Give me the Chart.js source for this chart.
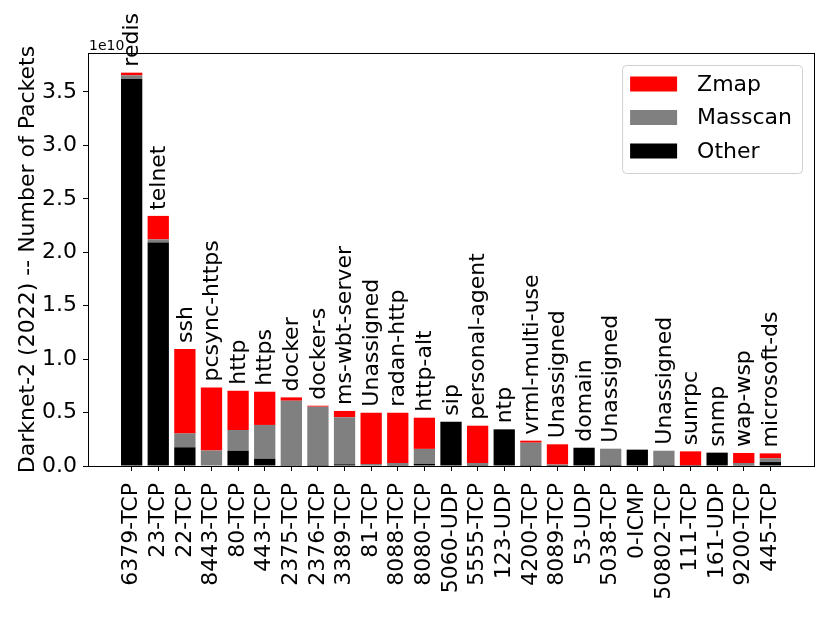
<!DOCTYPE html>
<html>
<head>
<meta charset="utf-8">
<script src="https://cdn.jsdelivr.net/npm/chart.js@4.4.1/dist/chart.umd.min.js"></script>
<style>
  html, body { margin: 0; padding: 0; background: #fff; }
  #wrap { width: 830px; height: 623px; }
</style>
</head>
<body>
<div id="wrap"><canvas id="chart" width="830" height="623"></canvas></div>
<script>
// port / protocol on the x axis
const ports = ['6379-TCP', '23-TCP', '22-TCP', '8443-TCP', '80-TCP', '443-TCP', '2375-TCP', '2376-TCP',
  '3389-TCP', '81-TCP', '8088-TCP', '8080-TCP', '5060-UDP', '5555-TCP', '123-UDP', '4200-TCP',
  '8089-TCP', '53-UDP', '5038-TCP', '0-ICMP', '50802-TCP', '111-TCP', '161-UDP', '9200-TCP', '445-TCP'];

// service name written above each bar
const services = ['redis', 'telnet', 'ssh', 'pcsync-https', 'http', 'https', 'docker', 'docker-s',
  'ms-wbt-server', 'Unassigned', 'radan-http', 'http-alt', 'sip', 'personal-agent', 'ntp', 'vrml-multi-use',
  'Unassigned', 'domain', 'Unassigned', '', 'Unassigned', 'sunrpc', 'snmp', 'wap-wsp', 'microsoft-ds'];

// packets (units of 1e10)
const other = [3.62, 2.09, 0.175, 0.005, 0.143, 0.068, 0.003, 0.002, 0.016, 0.004, 0.003, 0.02, 0.415,
  0.01, 0.343, 0.002, 0.002, 0.171, 0.001, 0.153, 0.001, 0.002, 0.125, 0.008, 0.037];
const masscan = [0.035, 0.03, 0.13, 0.14, 0.194, 0.316, 0.608, 0.553, 0.44, 0.015, 0.025, 0.14, 0.0,
  0.018, 0.0, 0.216, 0.012, 0.0, 0.161, 0.0, 0.142, 0.004, 0.0, 0.02, 0.035];
const zmap = [0.025, 0.22, 0.79, 0.59, 0.367, 0.311, 0.031, 0.009, 0.059, 0.48, 0.471, 0.292, 0.0,
  0.349, 0.0, 0.019, 0.189, 0.0, 0.0, 0.0, 0.0, 0.131, 0.0, 0.094, 0.046];

const yTicks = [0, 0.5, 1.0, 1.5, 2.0, 2.5, 3.0, 3.5];
const SCALE = 1e10;

const FONT = 'DejaVu Sans';

function points(arr) {
  return arr.map((v, i) => ({ x: i, y: v * SCALE }));
}

// service labels above the stacks + "1e10" offset text + frame
const extras = {
  id: 'extras',
  afterDatasetsDraw(chart) {
    const ctx = chart.ctx;
    const xs = chart.scales.x, ys = chart.scales.y;
    const area = chart.chartArea;
    ctx.save();
    ctx.fillStyle = '#000';
    ctx.font = '22px "' + FONT + '"';
    ctx.textAlign = 'left';
    ctx.textBaseline = 'middle';
    services.forEach((name, i) => {
      if (!name) return;
      const total = (other[i] + masscan[i] + zmap[i]) * SCALE;
      const px = xs.getPixelForValue(i);
      const py = ys.getPixelForValue(total);
      ctx.save();
      ctx.translate(px + 1, py - 6);
      ctx.rotate(-Math.PI / 2);
      ctx.fillText(name, 0, 0);
      ctx.restore();
    });

    // full box around the axes
    ctx.strokeStyle = '#000';
    ctx.lineWidth = 1;
    ctx.strokeRect(area.left + 0.5, area.top + 0.5, area.right - area.left, area.bottom - area.top);

    ctx.font = '14px "' + FONT + '"';
    ctx.textBaseline = 'alphabetic';
    ctx.fillText('1e10', area.left + 1, area.top - 3);
    ctx.restore();
  },
  afterDraw(chart) {
    // legend box in the upper right, top entry = top of stack
    const ctx = chart.ctx;
    const area = chart.chartArea;
    const sets = chart.data.datasets.slice().reverse();
    ctx.save();
    ctx.font = '22px "' + FONT + '"';
    let tw = 0;
    sets.forEach(d => { tw = Math.max(tw, ctx.measureText(d.label).width); });
    const w = 8 + 47 + 20 + tw + 10;
    const h = 108;
    const x0 = area.right - 12 - w;
    const y0 = area.top + 12;
    ctx.beginPath();
    ctx.roundRect(x0 + 0.5, y0 + 0.5, w, h, 4);
    ctx.fillStyle = 'rgba(255,255,255,0.8)';
    ctx.fill();
    ctx.strokeStyle = '#d0d0d0';
    ctx.lineWidth = 1;
    ctx.stroke();
    ctx.textBaseline = 'middle';
    ctx.textAlign = 'left';
    sets.forEach((d, k) => {
      const cy = y0 + 19 + k * 33.5;
      ctx.fillStyle = d.backgroundColor;
      ctx.fillRect(x0 + 8, cy - 7.5, 47, 15);
      ctx.fillStyle = '#000';
      ctx.fillText(d.label, x0 + 8 + 47 + 20, cy + 1);
    });
    ctx.restore();
  }
};

new Chart(document.getElementById('chart'), {
  type: 'bar',
  data: {
    datasets: [
      { label: 'Other', data: points(other), backgroundColor: '#000000' },
      { label: 'Masscan', data: points(masscan), backgroundColor: '#808080' },
      { label: 'Zmap', data: points(zmap), backgroundColor: '#ff0000' }
    ]
  },
  options: {
    responsive: false,
    animation: false,
    devicePixelRatio: 1,
    layout: { padding: { top: 53, right: 16, left: 0, bottom: 0 } },
    categoryPercentage: 1.0,
    barPercentage: 0.8,
    plugins: {
      legend: { display: false },
      tooltip: { enabled: false }
    },
    scales: {
      x: {
        type: 'linear',
        stacked: true,
        offset: false,
        min: -1.64,
        max: ports.length - 1 + 1.64,
        afterBuildTicks(axis) {
          axis.ticks = ports.map((_, i) => ({ value: i }));
        },
        afterFit(axis) { axis.height = 157; },
        grid: { display: true, offset: false, drawOnChartArea: false, drawTicks: true, tickLength: 5, color: '#000' },
        border: { display: true, color: '#000', width: 1 },
        ticks: {
          autoSkip: false,
          maxRotation: 90,
          minRotation: 90,
          padding: 12,
          color: '#000',
          font: { family: FONT, size: 22 },
          callback: (v) => ports[v]
        }
      },
      y: {
        stacked: true,
        min: 0,
        max: 3.864 * SCALE,
        afterBuildTicks(axis) {
          axis.ticks = yTicks.map(v => ({ value: v * SCALE }));
        },
        afterFit(axis) { axis.width = 88; },
        grid: { display: true, drawOnChartArea: false, drawTicks: true, tickLength: 5, color: '#000' },
        border: { display: true, color: '#000', width: 1 },
        title: {
          display: true,
          text: 'Darknet-2 (2022) -- Number of Packets',
          color: '#000',
          font: { family: FONT, size: 22 },
          padding: { top: 15, bottom: 0 }
        },
        ticks: {
          padding: 6,
          color: '#000',
          font: { family: FONT, size: 22 },
          callback: (v) => (v / SCALE).toFixed(1)
        }
      }
    }
  },
  plugins: [extras]
});
</script>
</body>
</html>
